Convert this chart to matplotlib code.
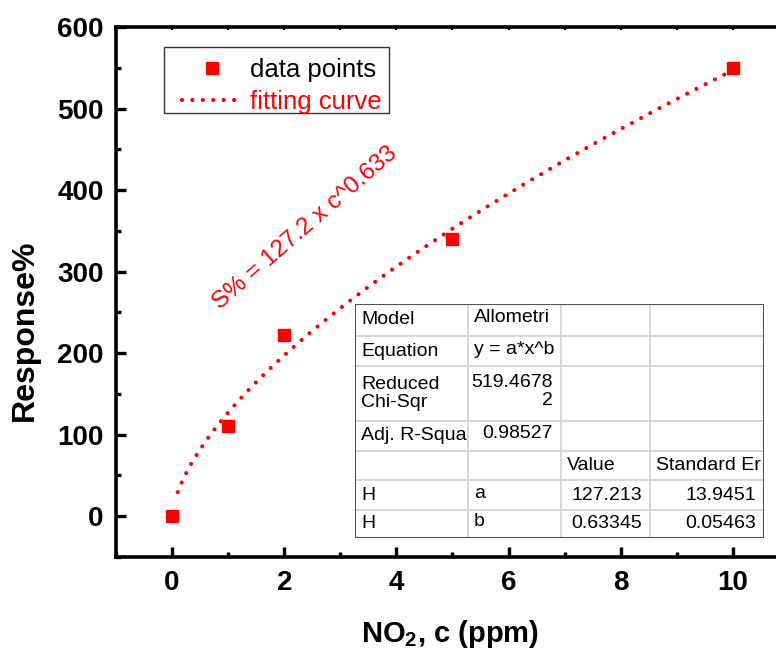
import numpy as np
import matplotlib.pyplot as plt
from matplotlib.ticker import MultipleLocator

# measured response of the sensor vs. NO2 concentration
conc = [0, 1, 2, 5, 10]
response = [0, 111, 222, 340, 550]

# allometric fit y = a*x^b
fit_a = 127.213
fit_b = 0.63345
fit_a_err = 13.9451
fit_b_err = 0.05463
chi_sqr = "519.4678\n2"
adj_r2 = "0.98527"

# fit report table, column by column
tab_col0 = ["Model", "Equation", "Reduced\nChi-Sqr", "Adj. R-Squa", "", "H", "H"]
tab_col1 = ["Allometri", "y = a*x^b", chi_sqr, adj_r2, "", "a", "b"]
tab_col2 = ["", "", "", "", "Value", f"{fit_a:.3f}", f"{fit_b:.5f}"]
tab_col3 = ["", "", "", "", "Standard Er", f"{fit_a_err:.4f}", f"{fit_b_err:.5f}"]

plt.rcParams['font.family'] = ['Liberation Sans', 'DejaVu Sans']
plt.rcParams['mathtext.fontset'] = 'custom'
plt.rcParams['mathtext.rm'] = 'Liberation Sans'
plt.rcParams['mathtext.bf'] = 'Liberation Sans:bold'

W, H = 776, 652
fig = plt.figure(figsize=(W / 100, H / 100), dpi=100)

# axes box in pixels: left 116, right 789 (past the edge), top 27, bottom 557
AX_L, AX_T, AX_W, AX_H = 116, 27, 673, 530
ax = fig.add_axes([AX_L / W, (H - AX_T - AX_H) / H, AX_W / W, AX_H / H])


def px2ax(x, y):
    return (x - AX_L) / AX_W, (AX_T + AX_H - y) / AX_H


xf = np.linspace(0.1, 10, 300)
yf = fit_a * xf ** fit_b
ax.plot(xf, yf, color='red', lw=3, linestyle=(0, (0.001, 2.5)),
        dash_capstyle='round', label='fitting curve', zorder=2)
ax.plot(conc, response, 's', color='red', ms=8, label='data points',
        zorder=3, clip_on=False)

ax.set_xlim(-1, 11)
ax.set_ylim(-50, 600)
ax.xaxis.set_major_locator(MultipleLocator(2))
ax.xaxis.set_minor_locator(MultipleLocator(1))
ax.yaxis.set_major_locator(MultipleLocator(100))
ax.yaxis.set_minor_locator(MultipleLocator(50))

for sp in ax.spines.values():
    sp.set_linewidth(2.6)
ax.tick_params(which='major', direction='in', length=7, width=2.4,
               labelsize=20, pad=9, top=True, right=False)
ax.tick_params(which='minor', direction='in', length=3.5, width=2.4,
               top=True, right=False)
ax.tick_params(axis='x', which='both', labeltop=False)
# the top edge only gets tiny marks
for t in ax.xaxis.get_major_ticks() + ax.xaxis.get_minor_ticks():
    t.tick2line.set_markersize(2)
    t.tick2line.set_markeredgewidth(1.5)
for lab in ax.get_xticklabels() + ax.get_yticklabels():
    lab.set_fontweight('bold')

ax.set_xlabel(r'NO$_\mathbf{2}$, c (ppm)', fontsize=21, fontweight='bold')
ax.set_ylabel('Response%', fontsize=23, fontweight='bold')
ax.xaxis.set_label_coords(0.496, -0.115)
ax.yaxis.set_label_coords(-0.113, 0.428)

# legend without its own frame; the box is drawn separately
h, l = ax.get_legend_handles_labels()
leg = ax.legend(h[::-1], l[::-1], loc='upper left',
                bbox_to_anchor=px2ax(182, 58), borderaxespad=0,
                fontsize=18.5, handlelength=2.35, handletextpad=0.3,
                borderpad=0, labelspacing=0.3, frameon=False)
leg.get_texts()[1].set_color('red')
bx0, by0 = px2ax(164, 113)
bx1, by1 = px2ax(389, 47)
ax.add_patch(plt.Rectangle((bx0, by0), bx1 - bx0, by1 - by0,
                           transform=ax.transAxes, facecolor='white',
                           edgecolor='#333333', lw=1.0, zorder=4))
leg.set_zorder(5)

ax.text(2.37, 353, 'S% = 127.2 x c^0.633', color='red', fontsize=17.5,
        rotation=41, rotation_mode='anchor', ha='center', va='center')

# fit report table, drawn in its own pixel-scaled axes
col_edges = [0, 113, 206, 295, 409]
row_edges = [0, 32, 62, 117, 147, 176, 206, 234]
tx = fig.add_axes([355 / W, (H - 538) / H, 409 / W, 234 / H])
tx.set_xlim(0, 409)
tx.set_ylim(234, 0)
tx.axis('off')
tx.add_patch(plt.Rectangle((0, 0), 409, 234, facecolor='white',
                           edgecolor='none', zorder=0))
for x in col_edges[1:-1]:
    tx.plot([x, x], [0, 234], color='#d6d6d6', lw=1.3, zorder=1)
for y in row_edges[1:-1]:
    tx.plot([0, 409], [y, y], color='#d6d6d6', lw=1.3, zorder=1)
tx.add_patch(plt.Rectangle((0, 0), 409, 234, facecolor='none',
                           edgecolor='#555555', lw=1.5, zorder=2))


def is_number(s):
    try:
        float(s.split('\n')[0])
        return True
    except ValueError:
        return False


for c, col in enumerate([tab_col0, tab_col1, tab_col2, tab_col3]):
    for r, s in enumerate(col):
        if not s:
            continue
        yc = (row_edges[r] + row_edges[r + 1]) / 2
        if c == 1:
            yc -= 2
        if c > 0 and is_number(s):
            tx.text(col_edges[c + 1] - 8, yc, s, fontsize=14, ha='right',
                    va='center', multialignment='right', linespacing=1.1)
        else:
            tx.text(col_edges[c] + 6, yc, s, fontsize=14, ha='left',
                    va='center', linespacing=1.1)

fig.savefig('out.png', dpi=100)
